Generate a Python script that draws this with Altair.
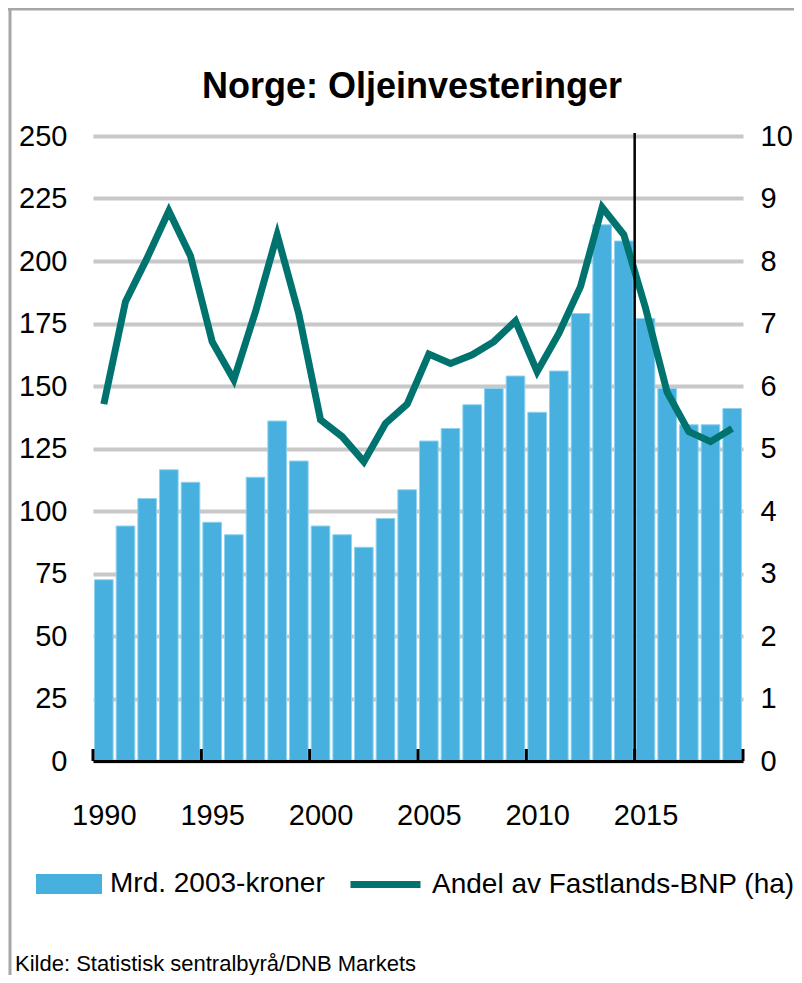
import altair as alt
import pandas as pd

# ---- data -------------------------------------------------------------
years = list(range(1990, 2020))
invest = [72.5, 94, 105, 116.5, 111.5, 95.5, 90.5, 113.5, 136, 120,
          94, 90.5, 85.5, 97, 108.5, 128, 133, 142.5, 149, 154,
          139.5, 156, 179, 214.5, 208, 177, 149, 134.5, 134.5, 141]
share = [5.71, 7.35, 8.05, 8.80, 8.08, 6.71, 6.10, 7.19, 8.42, 7.15,
         5.46, 5.19, 4.79, 5.40, 5.71, 6.51, 6.36, 6.50, 6.71, 7.04,
         6.23, 6.84, 7.59, 8.86, 8.42, 7.25, 5.90, 5.27, 5.11, 5.32]
label_years = [1990, 1995, 2000, 2005, 2010, 2015]
tick_bounds = [1989.5, 1994.5, 1999.5, 2004.5, 2009.5, 2014.5, 2019.5]
marker_year = [2014.5]
left_ticks = [0, 25, 50, 75, 100, 125, 150, 175, 200, 225, 250]
right_ticks = [0, 1, 2, 3, 4, 5, 6, 7, 8, 9, 10]
bar_label = "Mrd. 2003-kroner"
line_label = "Andel av Fastlands-BNP (ha)"
title_text = "Norge: Oljeinvesteringer"
source_text = "Kilde: Statistisk sentralbyrå/DNB  Markets"

FONT = "Liberation Sans, Arial, sans-serif"
BLUE = "#48b0de"
TEAL = "#00736f"
W, H = 650, 625
TICK_FS = 29
LEG_FS = 28

df = pd.DataFrame({"year": years, "invest": invest, "share": share,
                   "bs": [bar_label] * len(years), "ls": [line_label] * len(years)})
x_scale = alt.Scale(domain=[1989.5, 2019.5], nice=False, zero=False)

bars = alt.Chart(df).transform_calculate(
    x0="datum.year - 0.43", x1="datum.year + 0.43"
).mark_bar(stroke="#8fd2f0", strokeWidth=1).encode(
    x=alt.X("x0:Q", scale=x_scale,
            axis=alt.Axis(values=label_years, format="d", title=None, grid=False,
                          ticks=False, domainColor="black", domainWidth=3,
                          labelFontSize=TICK_FS, labelFont=FONT, labelColor="black",
                          labelPadding=40, zindex=1)),
    x2="x1:Q",
    y=alt.Y("invest:Q", scale=alt.Scale(domain=[0, 250], nice=False),
            axis=alt.Axis(orient="left", values=left_ticks, title=None, domain=False,
                          ticks=False, grid=True, gridColor="#c8c8c8", gridWidth=4,
                          labelFontSize=TICK_FS, labelFont=FONT, labelColor="black",
                          labelPadding=26)),
    y2=alt.datum(0),
    fill=alt.Fill("bs:N", scale=alt.Scale(range=[BLUE]),
                  legend=alt.Legend(title=None, orient="none", legendX=-57, legendY=715,
                                    symbolType="M-1,-0.3L1,-0.3L1,0.3L-1,0.3Z",
                                    symbolSize=4356, symbolStrokeWidth=0,
                                    labelFontSize=LEG_FS, labelFont=FONT, labelColor="black",
                                    labelOffset=8, labelLimit=1000, padding=0)),
)

line = alt.Chart(df).mark_line(strokeWidth=7).encode(
    x=alt.X("year:Q", scale=x_scale, title=None),
    y=alt.Y("share:Q", scale=alt.Scale(domain=[0, 10], nice=False),
            axis=alt.Axis(orient="right", values=right_ticks, title=None, domain=False,
                          ticks=False, grid=False, labelFontSize=TICK_FS, labelFont=FONT,
                          labelColor="black", labelPadding=17)),
    stroke=alt.Stroke("ls:N", scale=alt.Scale(range=[TEAL]),
                      legend=alt.Legend(title=None, orient="none", legendX=254, legendY=710,
                                        symbolType="stroke", symbolSize=4900,
                                        symbolStrokeWidth=7,
                                        labelFontSize=LEG_FS, labelFont=FONT, labelColor="black",
                                        labelOffset=8, labelLimit=1000, padding=0)),
)

vline = alt.Chart(pd.DataFrame({"b": marker_year})).mark_rule(
    color="black", strokeWidth=2.5
).encode(x=alt.X("b:Q", scale=x_scale, title=None), y=alt.value(-3), y2=alt.value(H))

ticks = alt.Chart(pd.DataFrame({"b": tick_bounds})).mark_rule(
    color="black", strokeWidth=3
).encode(x=alt.X("b:Q", scale=x_scale, title=None), y=alt.value(H), y2=alt.value(H - 12))

title = alt.Chart(pd.DataFrame({"t": [title_text]})).mark_text(
    font=FONT, fontSize=36, fontWeight="bold", align="center", baseline="alphabetic",
    color="black"
).encode(text="t:N", x=alt.value(319), y=alt.value(-38))

source = alt.Chart(pd.DataFrame({"t": [source_text]})).mark_text(
    font=FONT, fontSize=22, align="left", baseline="alphabetic", color="black"
).encode(text="t:N", x=alt.value(-78), y=alt.value(835))

border_df = pd.DataFrame({"k": [0]})
border_left = alt.Chart(border_df).mark_rule(color="#a6a6a6", strokeWidth=3).encode(
    x=alt.value(-83), y=alt.value(-127), y2=alt.value(839))
border_top = alt.Chart(border_df).mark_rule(color="#a6a6a6", strokeWidth=3).encode(
    x=alt.value(-85), x2=alt.value(701), y=alt.value(-127))

chart = alt.layer(
    bars, line, vline, ticks, title, source, border_left, border_top
).resolve_scale(
    y="independent"
).properties(
    width=W, height=H,
    autosize=alt.AutoSizeParams(type="none"),
    padding={"left": 85, "top": 128, "right": 51, "bottom": 214},
).configure_view(stroke=None)

chart.save("out.html", embed_options={"renderer": "svg", "actions": False})
